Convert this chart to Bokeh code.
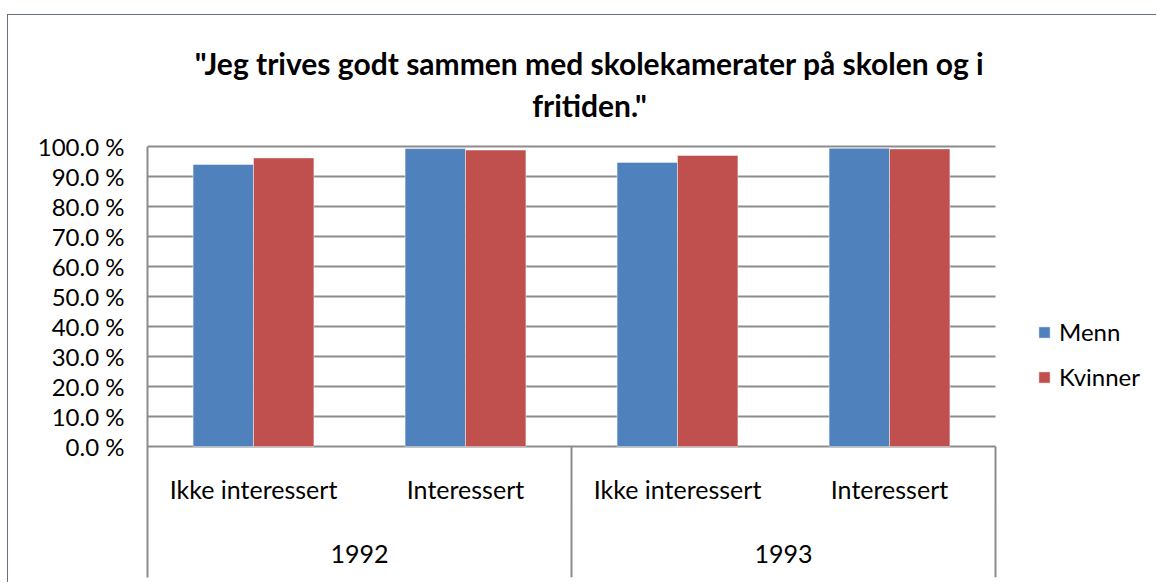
from bokeh.plotting import figure
from bokeh.models import (Range1d, FixedTicker, Legend, LegendItem,
                          Label, ColumnDataSource)
from bokeh.transform import dodge
from bokeh.core.properties import value
from bokeh.embed import file_html
from bokeh.resources import INLINE

# ---------------- data ----------------
years = ["1992", "1993"]
groups = ["Ikke interessert", "Interessert"]
series = ["Menn", "Kvinner"]
menn = [94.0, 99.3, 94.7, 99.4]
kvinner = [96.2, 98.8, 97.0, 99.2]
y_ticks = [0, 10, 20, 30, 40, 50, 60, 70, 80, 90, 100]
y_tick_labels = ["0.0 %", "10.0 %", "20.0 %", "30.0 %", "40.0 %", "50.0 %",
                 "60.0 %", "70.0 %", "80.0 %", "90.0 %", "100.0 %"]
title_lines = ['"Jeg trives godt sammen med skolekamerater på skolen og i',
               'fritiden."']

# ---------------- styling ----------------
BLUE = "#4f81bd"
RED = "#c0504d"
GRID = "#8c8c8c"
FONT = "Lato"

labels = [(y, g) for y in years for g in groups]
n_cat = len(labels)
centers = [i + 0.5 for i in range(n_cat)]            # one slot per category
year_centers = [len(groups) * (i + 0.5) for i in range(len(years))]
sep_x = [len(groups) * (i + 1) for i in range(len(years))]

W, H = 1149, 568
LEFT, PLOT_W = 139, 848              # plot-area left offset and width (px)
x_end = n_cat * (W - LEFT) / PLOT_W  # extra room on the right for the legend
y_bottom = -43.667
y_top = 138.667                      # room above the value axis for the title

p = figure(x_range=Range1d(0, x_end), y_range=Range1d(y_bottom, y_top),
           width=W, height=H, output_backend="svg", toolbar_location=None,
           x_axis_location=None, min_border_left=LEFT, min_border_right=0,
           min_border_top=15, min_border_bottom=6,
           background_fill_color="white", border_fill_color="white",
           outline_line_color=None)
p.styles = {"border-left": "1px solid #66717d", "border-top": "1px solid #66717d",
            "margin-top": "14px", "margin-left": "7px"}

for g in p.xgrid:
    g.visible = False

ticker = FixedTicker(ticks=y_ticks)
p.yaxis.ticker = ticker
p.yaxis.bounds = (y_bottom, 100)
p.ygrid.ticker = ticker
p.ygrid.cross_bounds = (0, n_cat)
p.ygrid.grid_line_color = GRID
p.ygrid.grid_line_width = 2
p.yaxis.major_label_overrides = {t: l for t, l in zip(y_ticks, y_tick_labels)}
p.yaxis.major_tick_line_color = None
p.yaxis.minor_tick_line_color = None
p.yaxis.axis_line_color = GRID
p.yaxis.axis_line_width = 2
p.yaxis.major_label_text_font = FONT
p.yaxis.major_label_text_font_size = "24px"
p.yaxis.major_label_text_color = "#000000"
p.yaxis.major_label_standoff = 17

src = ColumnDataSource(dict(x=centers, Menn=menn, Kvinner=kvinner))
r1 = p.vbar(x=dodge("x", -0.1425), top="Menn", width=0.285,
            source=src, fill_color=BLUE, line_color="white", line_alpha=0.45,
            line_width=1)
r2 = p.vbar(x=dodge("x", 0.1425), top="Kvinner", width=0.285,
            source=src, fill_color=RED, line_color="white", line_alpha=0.45,
            line_width=1)

# category separators below the axis
p.segment(x0=sep_x, y0=[0] * len(sep_x), x1=sep_x, y1=[y_bottom] * len(sep_x),
          line_color=GRID, line_width=2)

# category labels (two levels)
p.text(x=centers, y=[-14.33] * n_cat, text=[l[1] for l in labels],
       text_font=value(FONT), text_font_size="25px", text_align="center",
       text_baseline="middle", text_color="#000000")
p.text(x=year_centers, y=[-35.67] * len(years), text=years,
       text_font=value(FONT), text_font_size="25px", text_align="center",
       text_baseline="middle", text_color="#000000")

# title (two centred lines)
for txt, yy in zip(title_lines, [127.67, 114.0]):
    p.add_layout(Label(x=2.085, y=yy, text=txt, text_font=FONT,
                       text_font_style="bold", text_font_size="30px",
                       text_align="center", text_baseline="alphabetic",
                       text_color="#000000"))

legend = Legend(items=[LegendItem(label=series[0], renderers=[r1]),
                       LegendItem(label=series[1], renderers=[r2])],
                location=(890, 186), border_line_color=None,
                background_fill_alpha=0, padding=0, margin=0, spacing=16,
                glyph_width=14, glyph_height=14, label_standoff=8,
                label_text_font=FONT, label_text_font_size="24px",
                label_text_color="#000000")
p.add_layout(legend)

open("out.html", "w").write(file_html(p, INLINE))
